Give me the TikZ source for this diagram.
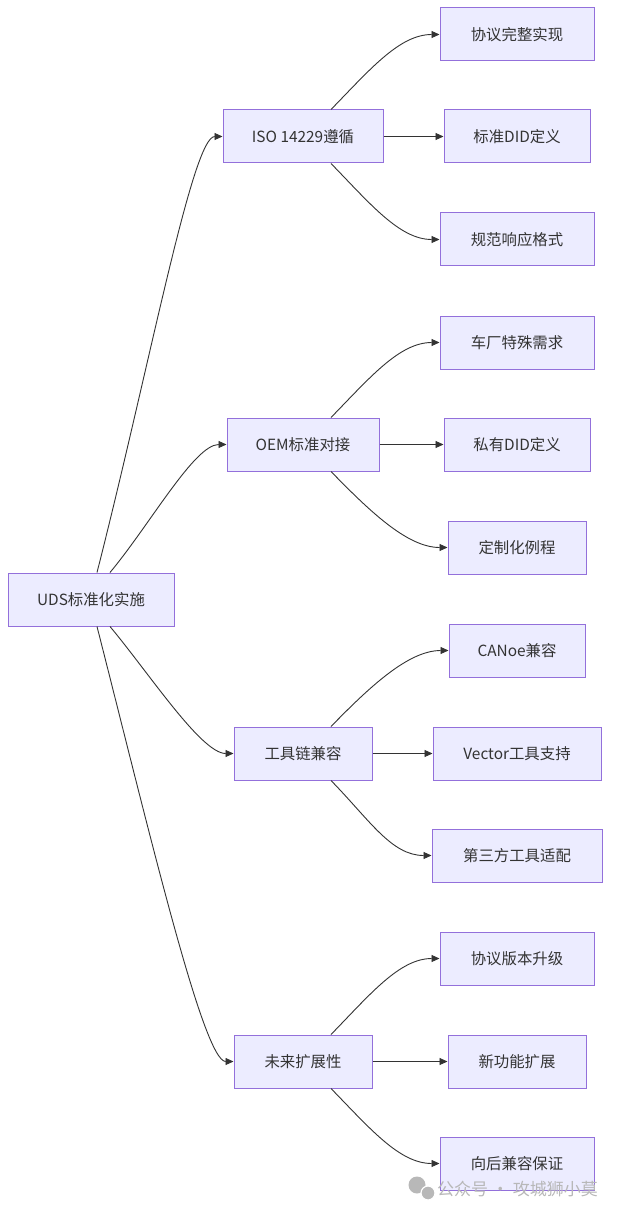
\documentclass[tikz,border=0pt]{standalone}
\usepackage{fontspec}
\setmainfont{Noto Sans CJK SC}
\usetikzlibrary{arrows.meta, positioning}
\definecolor{boxfill}{HTML}{ECECFF}
\definecolor{boxline}{HTML}{9370DB}
\definecolor{linkcol}{HTML}{333333}
\definecolor{markgray}{HTML}{B8B8B8}

\begin{document}
\begin{tikzpicture}[
    x=1pt, y=-1pt,
    box/.style=
    {draw=boxline, fill=boxfill, line width=1pt, minimum height=53pt,
     minimum width=#1, inner sep=0pt, text=linkcol,
     font=\fontsize{15.4}{18}\selectfont},
    link/.style=
    {draw=linkcol, line width=0.9pt, -{Triangle[length=8pt,width=7pt]}}]
    \useasboundingbox (0,0) rectangle (618,1214);
    \node (root) [box=166pt] at (91,599.5) {UDS标准化实施};
    % first level
    \node (iso) [box=160pt] at (303,136.5) {ISO 14229遵循};
    \node (oem) [box=152pt] at (303,444.5) {OEM标准对接};
    \node (tool) [box=138pt] at (303,753.5) {工具链兼容};
    \node (fut) [box=138pt] at (303,1061.5) {未来扩展性};
    % second level
    \node (iso1) [box=154pt] at (517,34.5) {协议完整实现};
    \node (iso2) [box=146pt] at (517,136.5) {标准DID定义};
    \node (iso3) [box=154pt] at (517,239.5) {规范响应格式};
    \node (oem1) [box=154pt] at (517,342.5) {车厂特殊需求};
    \node (oem2) [box=146pt] at (517,444.5) {私有DID定义};
    \node (oem3) [box=138pt] at (517,547.5) {定制化例程};
    \node (tool1) [box=136pt] at (517,650.5) {CANoe兼容};
    \node (tool2) [box=168pt] at (517,753.5) {Vector工具支持};
    \node (tool3) [box=170pt] at (517,855.5) {第三方工具适配};
    \node (fut1) [box=154pt] at (517,958.5) {协议版本升级};
    \node (fut2) [box=138pt] at (517,1061.5) {新功能扩展};
    \node (fut3) [box=154pt] at (517,1163.5) {向后兼容保证};
    \path[link] ([xshift=6pt]root.north) .. controls +(53,-208) and +(-30,0) .. (iso.west);
    \path[link] ([xshift=19pt]root.north) .. controls +(40,-48) and +(-32,0) .. (oem.west);
    \path[link] ([xshift=19pt]root.south) .. controls +(40,48) and +(-32,0) .. (tool.west);
    \path[link] ([xshift=6pt]root.south) .. controls +(53,208) and +(-30,0) .. (fut.west);
    \foreach \p in {iso, oem, tool, fut}
    {
        \path[link] ([xshift=28pt]\p.north) .. controls +(39,-40) and +(-40,0) .. (\p1.west);
        \path[link] (\p.east) -- (\p2.west);
        \path[link] ([xshift=28pt]\p.south) .. controls +(39,40) and +(-40,0) .. (\p3.west);
    }
    % watermark
    \fill[markgray] (417,1185) circle (8.5pt);
    \fill[markgray, draw=white, line width=1.2pt] (428,1193) circle (7pt);
    \node (mark) [text=markgray, anchor=west, inner sep=0pt,
        font=\fontsize{17}{19}\selectfont] at (437,1189) {公众号 · 攻城狮小莫};
\end{tikzpicture}
\end{document}
